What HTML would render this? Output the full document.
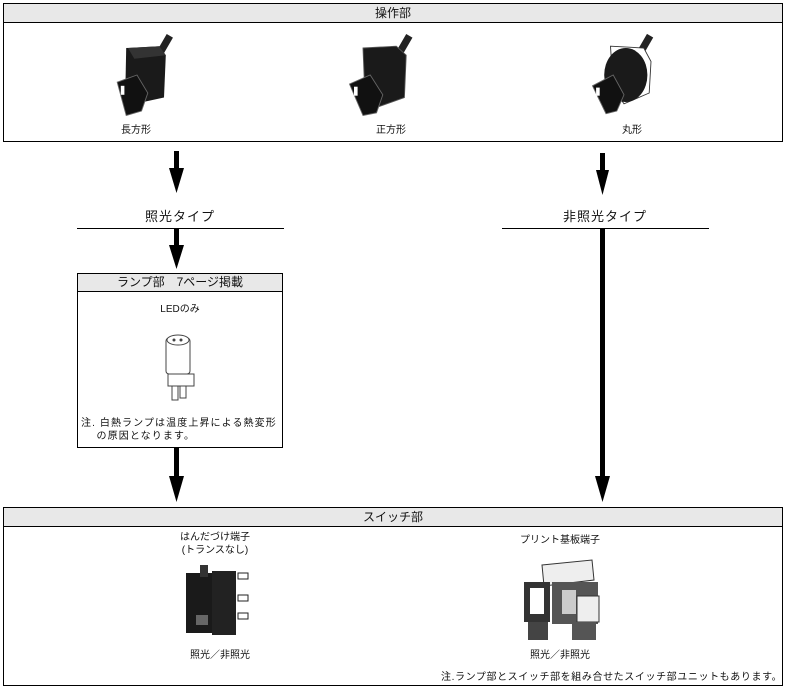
<!DOCTYPE html>
<html><head><meta charset="utf-8"><style>
html,body{margin:0;padding:0;background:#fff;}
body{width:786px;height:688px;position:relative;overflow:hidden;font-family:"Liberation Sans","Noto Sans CJK JP",sans-serif;color:#111;}
.abs{position:absolute;}
.box{position:absolute;border:1px solid #000;background:transparent;box-sizing:border-box;}
.hdr{position:absolute;left:0;right:0;top:0;background:#e8e8e8;border-bottom:1px solid #000;text-align:center;font-size:12px;}
.t{position:absolute;font-size:10px;text-align:center;white-space:nowrap;}
svg{z-index:2;}
</style></head><body>

<div class="box" style="left:3px;top:3px;width:780px;height:139px;">
  <div class="hdr" style="height:18px;line-height:18px;">操作部</div>
</div>
<div class="box" style="left:77px;top:273px;width:206px;height:175px;">
  <div class="hdr" style="height:17px;line-height:17px;font-size:12px;">ランプ部　7ページ掲載</div>
</div>
<div class="box" style="left:3px;top:507px;width:780px;height:179px;">
  <div class="hdr" style="height:18px;line-height:18px;">スイッチ部</div>
</div>

<svg class="abs" style="left:0;top:0" width="786" height="688">
  <g transform="translate(110,30) scale(0.9)">
    <rect x="57" y="5" width="8" height="22" fill="#222" transform="rotate(30 61 16)"/>
    <polygon points="18,20 55,18 62,28 60,75 28,82 17,70" fill="#1a1a1a"/>
    <polygon points="20,20 55,18 62,28 27,32" fill="#333"/>
    <polygon points="8,58 30,50 42,70 35,90 18,95" fill="#111" stroke="#666" stroke-width="1"/>
    <rect x="12" y="62" width="4" height="10" fill="#fff"/>
  </g>
  <g transform="translate(345,30) scale(0.9)">
    <rect x="62" y="5" width="8" height="22" fill="#222" transform="rotate(30 66 16)"/>
    <polygon points="20,20 57,18 68,28 66,75 38,85 22,70" fill="#1a1a1a" stroke="#555"/>
    <polygon points="5,60 28,50 42,72 35,92 20,95" fill="#111" stroke="#666"/>
    <rect x="10" y="63" width="4" height="10" fill="#fff"/>
  </g>
  <g transform="translate(588,30) scale(0.9)">
    <rect x="60" y="5" width="8" height="20" fill="#222" transform="rotate(30 64 15)"/>
    <polygon points="25,18 62,20 70,35 68,70 40,82 28,65" fill="#fff" stroke="#333"/>
    <ellipse cx="42" cy="50" rx="24" ry="30" fill="#1a1a1a"/>
    <polygon points="5,62 28,50 40,72 32,90 20,93" fill="#111" stroke="#666"/>
    <rect x="9" y="64" width="4" height="9" fill="#fff"/>
  </g>

  <rect x="174" y="151" width="5" height="18" fill="#000"/>
  <polygon points="169,168 184,168 176.5,193" fill="#000"/>
  <rect x="600" y="153" width="5" height="18" fill="#000"/>
  <polygon points="596,170 609,170 602.5,195" fill="#000"/>
  <line x1="77" y1="228.5" x2="284" y2="228.5" stroke="#000" stroke-width="1"/>
  <line x1="502" y1="228.5" x2="709" y2="228.5" stroke="#000" stroke-width="1"/>
  <rect x="174" y="229" width="5" height="17" fill="#000"/>
  <polygon points="169,245 184,245 176.5,269" fill="#000"/>
  <rect x="174" y="448" width="5" height="29" fill="#000"/>
  <polygon points="169,476 184,476 176.5,502" fill="#000"/>
  <rect x="600" y="229" width="5" height="248" fill="#000"/>
  <polygon points="595,476 610,476 602.5,502" fill="#000"/>

  <g transform="translate(162,330)">
    <rect x="4" y="8" width="24" height="36" rx="3" fill="#fff" stroke="#444"/>
    <ellipse cx="16" cy="10" rx="11" ry="5" fill="#fff" stroke="#444"/>
    <circle cx="12" cy="10" r="1.5" fill="#444"/><circle cx="19" cy="10" r="1.5" fill="#444"/>
    <rect x="6" y="44" width="26" height="12" fill="#fff" stroke="#444"/>
    <rect x="10" y="56" width="6" height="14" fill="#fff" stroke="#444"/>
    <rect x="18" y="56" width="6" height="12" fill="#fff" stroke="#444"/>
  </g>

  <g transform="translate(186,565)">
    <rect x="0" y="8" width="28" height="60" fill="#1a1a1a"/>
    <rect x="26" y="6" width="24" height="64" fill="#222"/>
    <rect x="14" y="0" width="8" height="12" fill="#333"/>
    <rect x="52" y="8" width="10" height="6" fill="#fff" stroke="#222"/>
    <rect x="52" y="30" width="10" height="6" fill="#fff" stroke="#222"/>
    <rect x="52" y="48" width="10" height="6" fill="#fff" stroke="#222"/>
    <rect x="10" y="50" width="12" height="10" fill="#666"/>
  </g>
  <g transform="translate(522,560)">
    <polygon points="20,5 70,0 72,20 22,26" fill="#eee" stroke="#333"/>
    <rect x="2" y="22" width="26" height="40" fill="#333"/>
    <rect x="30" y="22" width="46" height="42" fill="#555"/>
    <rect x="8" y="28" width="14" height="26" fill="#fff"/>
    <rect x="40" y="30" width="14" height="24" fill="#ccc"/>
    <rect x="55" y="36" width="22" height="26" fill="#eee" stroke="#333"/>
    <rect x="6" y="62" width="20" height="18" fill="#444"/>
    <rect x="50" y="62" width="24" height="18" fill="#555"/>
  </g>
</svg>
<div class="t" style="left:106px;width:60px;top:121px;">長方形</div>
<div class="t" style="left:361px;width:60px;top:121px;">正方形</div>
<div class="t" style="left:602px;width:60px;top:121px;">丸形</div>

<div class="t" style="left:80px;width:200px;top:206px;font-size:13px;letter-spacing:1px;">照光タイプ</div>
<div class="t" style="left:505px;width:200px;top:206px;font-size:13px;letter-spacing:1px;">非照光タイプ</div>

<div class="t" style="left:130px;width:100px;top:300px;">LEDのみ</div>
<div class="abs" style="left:81px;top:417px;font-size:10px;line-height:13px;white-space:nowrap;letter-spacing:1.1px;">注. 白熱ランプは温度上昇による熱変形<br>&nbsp;&nbsp;&nbsp;&nbsp;の原因となります。</div>

<div class="t" style="left:175px;width:80px;top:531px;line-height:13px;">はんだづけ端子<br>(トランスなし)</div>
<div class="t" style="left:520px;width:80px;top:531px;">プリント基板端子</div>
<div class="t" style="left:180px;width:80px;top:646px;">照光／非照光</div>
<div class="t" style="left:520px;width:80px;top:646px;">照光／非照光</div>
<div class="abs" style="left:441px;top:668px;font-size:10px;white-space:nowrap;letter-spacing:0.6px;">注.ランプ部とスイッチ部を組み合せたスイッチ部ユニットもあります。</div>

</body></html>
